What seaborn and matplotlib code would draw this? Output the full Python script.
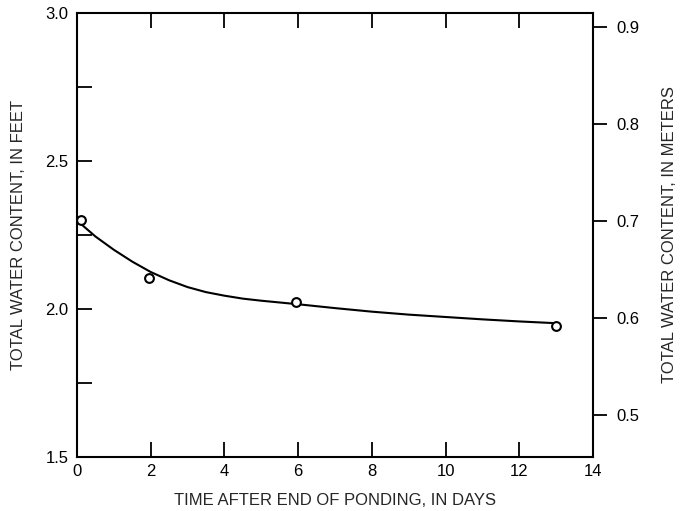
import matplotlib
matplotlib.use("Agg")
import matplotlib.pyplot as plt
import seaborn as sns
import pandas as pd

# Observed data points (days, feet)
obs_days = [0.1, 1.95, 5.95, 13.0]
obs_feet = [2.30, 2.105, 2.023, 1.943]

# Fitted curve (days, feet)
curve_days = [0.1, 0.5, 1.0, 1.5, 2.0, 2.5, 3.0, 3.5, 4.0, 4.5, 5.0, 6.0, 7.0, 8.0, 9.0, 10.0, 11.0, 12.0, 13.0]
curve_feet = [2.288, 2.245, 2.200, 2.160, 2.125, 2.097, 2.074, 2.057, 2.045, 2.035, 2.028, 2.016, 2.003, 1.991, 1.981, 1.973, 1.965, 1.958, 1.952]

x_ticks = [0, 2, 4, 6, 8, 10, 12, 14]
y_ticks_major = [1.5, 2.0, 2.5, 3.0]
y_ticks_all = [1.5, 1.75, 2.0, 2.25, 2.5, 2.75, 3.0]
m_ticks = [0.5, 0.6, 0.7, 0.8, 0.9]
FT_TO_M = 0.3048

xlabel = "TIME AFTER END OF PONDING, IN DAYS"
ylabel_left = "TOTAL WATER CONTENT, IN FEET"
ylabel_right = "TOTAL WATER CONTENT, IN METERS"

sns.set_style("ticks")
plt.rcParams['font.family'] = ['Liberation Sans', 'DejaVu Sans']
plt.rcParams['font.size'] = 12

fig = plt.figure(figsize=(6.85, 5.11), dpi=100)
ax = fig.add_axes([77/685, 1-457/511, (593-77)/685, (457-13)/511])

obs = pd.DataFrame({"days": obs_days, "feet": obs_feet})
curve = pd.DataFrame({"days": curve_days, "feet": curve_feet})

sns.lineplot(data=curve, x="days", y="feet", ax=ax, color="black", linewidth=1.5, zorder=2)
sns.scatterplot(data=obs, x="days", y="feet", ax=ax, marker="o", s=40,
                facecolor="white", edgecolor="black", linewidth=1.5, zorder=3, clip_on=False)

ax.set_xlim(0, 14)
ax.set_ylim(1.5, 3.0)
ax.set_xticks(x_ticks)
ax.set_xticklabels([str(t) for t in x_ticks])
ax.set_yticks(y_ticks_all)
ax.set_yticklabels([f"{t:.1f}" if t in y_ticks_major else "" for t in y_ticks_all])
ax.tick_params(axis="both", direction="in", length=11, width=1.3, color="black",
               labelsize=12, labelcolor="black")
ax.tick_params(axis="x", top=True, pad=5)
ax.tick_params(axis="y", right=True, pad=6)
for s in ax.spines.values():
    s.set_linewidth(1.5)
    s.set_color("black")
    s.set_visible(True)

ax.set_xlabel(xlabel, fontsize=12, labelpad=10)
ax.set_ylabel(ylabel_left, fontsize=12, labelpad=14)

ax2 = ax.twinx()
ax2.set_ylim(1.5*FT_TO_M, 3.0*FT_TO_M)
ax2.set_yticks(m_ticks)
ax2.set_yticklabels([f"{t:.1f}" for t in m_ticks])
ax2.tick_params(axis="y", direction="out", length=10, width=1.3, pad=7,
                labelsize=12, color="black", labelcolor="black")
for s in ax2.spines.values():
    s.set_visible(False)
ax2.set_ylabel(ylabel_right, fontsize=12, labelpad=16)

fig.savefig("out.png", dpi=100, facecolor="white")
